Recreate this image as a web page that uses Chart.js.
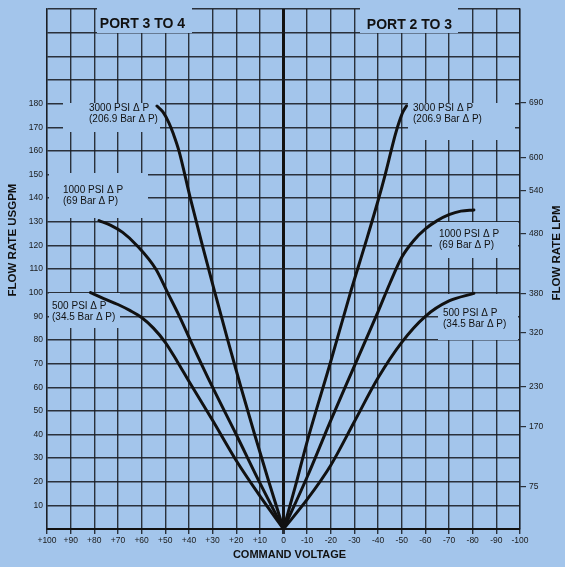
<!DOCTYPE html>
<html>
<head>
<meta charset="utf-8">
<script src="https://cdn.jsdelivr.net/npm/chart.js@4/dist/chart.umd.min.js"></script>
<style>
  html, body { margin: 0; padding: 0; background: #a3c5eb; }
  canvas { display: block; }
</style>
</head>
<body>
<canvas id="flow" width="565" height="567"></canvas>
<script>
// Flow through the valve (USGPM) against command voltage, one curve per pressure drop.
// Port 2 to 3 runs on negative command voltage, port 3 to 4 on positive.
const port23_3000psi_volts = [0, -5, -10, -20, -28, -35, -40, -43, -45.5, -47.3, -49, -50.5, -52];
const port23_3000psi_flow  = [0, 18, 37, 71, 99, 122, 139, 150, 160, 167, 172.5, 176.5, 179];
const port23_1000psi_volts = [0, -10, -20, -30, -40, -45, -50, -55, -60, -65, -70, -75, -80.5];
const port23_1000psi_flow  = [0, 22, 46, 69, 92, 104, 115, 122, 127, 130.5, 133, 134.5, 135];
const port23_500psi_volts  = [0, -10, -20, -30, -40, -50, -60, -70, -80.5];
const port23_500psi_flow   = [0, 12.5, 27, 45.5, 64, 79, 90, 96.5, 99.7];

const port34_3000psi_volts = [0, 6.2, 12.2, 18, 23.6, 29, 34.3, 39.4, 44.2, 46.5, 48.5, 51, 53.5];
const port34_3000psi_flow  = [0, 20, 40, 60, 80, 100, 120, 140, 160, 167, 172, 176.5, 179];
const port34_1000psi_volts = [0, 10, 20, 30, 39, 44, 49, 54, 62, 68, 73, 78];
const port34_1000psi_flow  = [0, 19.5, 40, 60, 79, 90, 100, 110, 120, 125.5, 128.5, 130.5];
const port34_500psi_volts  = [0, 10, 20, 30, 40, 45, 50, 55, 60, 65, 70, 76, 81.6];
const port34_500psi_flow   = [0, 14, 29, 46, 62.5, 71, 79, 85, 89.5, 92.5, 95, 97.5, 100];

// Flow axis: USGPM labels on the left, LPM marks on the right (placed on the USGPM scale).
const usgpmLabelMax = 180;
const lpmTickLabels = ['75', '170', '230', '320', '380', '480', '540', '600', '690'];
const lpmTickAtUsgpm = [18.1, 43.3, 60.1, 83.2, 99.6, 124.8, 143.3, 157.1, 180.3];

// Pressure-drop captions for each curve
const caption3000 = ['3000 PSI \u0394 P', '(206.9 Bar \u0394 P)'];
const caption1000 = ['1000 PSI \u0394 P', '(69 Bar \u0394 P)'];
const caption500  = ['500 PSI \u0394 P', '(34.5 Bar \u0394 P)'];

const BG = '#a3c5eb';
const INK = '#111111';
const GRID = 'rgba(25,28,34,0.88)';
const FONT = '"Liberation Sans", Arial, Helvetica, sans-serif';

function toPoints(xs, ys) { return xs.map((x, i) => ({ x: x, y: ys[i] })); }

function curve(xs, ys) {
  return {
    data: toPoints(xs, ys),
    borderColor: INK,
    borderWidth: 3,
    pointRadius: 0,
    fill: false,
    showLine: true,
    cubicInterpolationMode: 'monotone',
    borderCapStyle: 'round',
    borderJoinStyle: 'round'
  };
}

// Blank panels behind the captions, then the captions and axis titles.
const annotations = {
  id: 'annotations',
  beforeDraw(chart) {
    const ctx = chart.ctx;
    ctx.save();
    ctx.fillStyle = BG;
    ctx.fillRect(0, 0, chart.width, chart.height);
    ctx.restore();
  },
  beforeDatasetsDraw(chart) {
    const ctx = chart.ctx;
    const panels = [
      [97, 7, 192, 33], [360, 7, 458, 33],
      [63, 103, 160, 132], [49, 173, 148, 218], [49, 293, 120, 328],
      [408, 103, 515, 140], [432, 222, 518, 258], [438, 294, 518, 340]
    ];
    ctx.save();
    ctx.fillStyle = BG;
    panels.forEach(([x0, y0, x1, y1]) => ctx.fillRect(x0, y0, x1 - x0, y1 - y0));
    ctx.restore();
  },
  afterDatasetsDraw(chart) {
    const ctx = chart.ctx;
    ctx.save();
    ctx.fillStyle = INK;
    ctx.textBaseline = 'middle';

    ctx.font = 'bold 14px ' + FONT;
    ctx.textAlign = 'center';
    ctx.fillText('PORT 3 TO 4', 142.5, 24);
    ctx.fillText('PORT 2 TO 3', 409.5, 25);

    ctx.font = '10px ' + FONT;
    ctx.textAlign = 'left';
    const captions = [
      [caption3000, 89, 108], [caption1000, 63, 190], [caption500, 52, 306],
      [caption3000, 413, 108], [caption1000, 439, 234], [caption500, 443, 313]
    ];
    captions.forEach(([lines, x, y]) => {
      lines.forEach((t, i) => ctx.fillText(t, x, y + i * 11));
    });

    ctx.font = 'bold 11px ' + FONT;
    ctx.textAlign = 'center';
    ctx.fillText('COMMAND VOLTAGE', 289.5, 555);

    ctx.font = 'bold 11.5px ' + FONT;
    ctx.save();
    ctx.translate(13, 240);
    ctx.rotate(-Math.PI / 2);
    ctx.fillText('FLOW RATE USGPM', 0, 0);
    ctx.restore();
    ctx.save();
    ctx.translate(557, 253);
    ctx.rotate(-Math.PI / 2);
    ctx.fillText('FLOW RATE LPM', 0, 0);
    ctx.restore();

    ctx.restore();
  }
};

const tickFont = { family: FONT, size: 8.5 };

new Chart(document.getElementById('flow'), {
  type: 'scatter',
  data: {
    datasets: [
      curve(port23_3000psi_volts, port23_3000psi_flow),
      curve(port23_1000psi_volts, port23_1000psi_flow),
      curve(port23_500psi_volts, port23_500psi_flow),
      curve(port34_3000psi_volts, port34_3000psi_flow),
      curve(port34_1000psi_volts, port34_1000psi_flow),
      curve(port34_500psi_volts, port34_500psi_flow)
    ]
  },
  options: {
    responsive: false,
    animation: false,
    layout: { padding: { top: 5, left: 0, right: 0, bottom: 0 } },
    plugins: { legend: { display: false }, tooltip: { enabled: false } },
    scales: {
      x: {
        type: 'linear',
        reverse: true,
        min: -100,
        max: 100,
        afterFit: (s) => { s.height = 38; },
        border: { display: true, color: INK, width: 2 },
        grid: {
          color: (c) => (c.tick && c.tick.value === 0 ? INK : GRID),
          lineWidth: (c) => (c.tick && c.tick.value === 0 ? 3 : 1.4),
          drawTicks: true,
          tickLength: 5,
          tickColor: GRID
        },
        ticks: {
          stepSize: 10,
          autoSkip: false,
          maxRotation: 0,
          padding: 2,
          color: '#1a1a1a',
          font: tickFont,
          callback: (v) => (v > 0 ? '+' + v : String(v))
        }
      },
      y: {
        type: 'linear',
        position: 'left',
        min: 0,
        max: 220,
        afterFit: (s) => { s.width = 47; },
        border: { display: true, color: GRID, width: 1.4 },
        grid: {
          color: (c) => (c.tick && c.tick.value === 0 ? INK : GRID),
          lineWidth: (c) => (c.tick && c.tick.value === 0 ? 2 : 1.4),
          drawTicks: false
        },
        ticks: {
          stepSize: 10,
          autoSkip: false,
          padding: 4,
          color: '#1a1a1a',
          font: tickFont,
          callback: (v) => (v > 0 && v <= usgpmLabelMax ? String(v) : '')
        }
      },
      lpm: {
        type: 'linear',
        position: 'right',
        min: 0,
        max: 220,
        afterFit: (s) => { s.width = 45; },
        afterBuildTicks: (s) => { s.ticks = lpmTickAtUsgpm.map((v) => ({ value: v })); },
        border: { display: true, color: GRID, width: 1.4 },
        grid: {
          drawOnChartArea: false,
          drawTicks: true,
          tickLength: 6,
          tickColor: GRID,
          lineWidth: 1.2
        },
        ticks: {
          autoSkip: false,
          padding: 3,
          color: '#1a1a1a',
          font: tickFont,
          callback: (v, i) => lpmTickLabels[i]
        }
      }
    }
  },
  plugins: [annotations]
});
</script>
</body>
</html>
